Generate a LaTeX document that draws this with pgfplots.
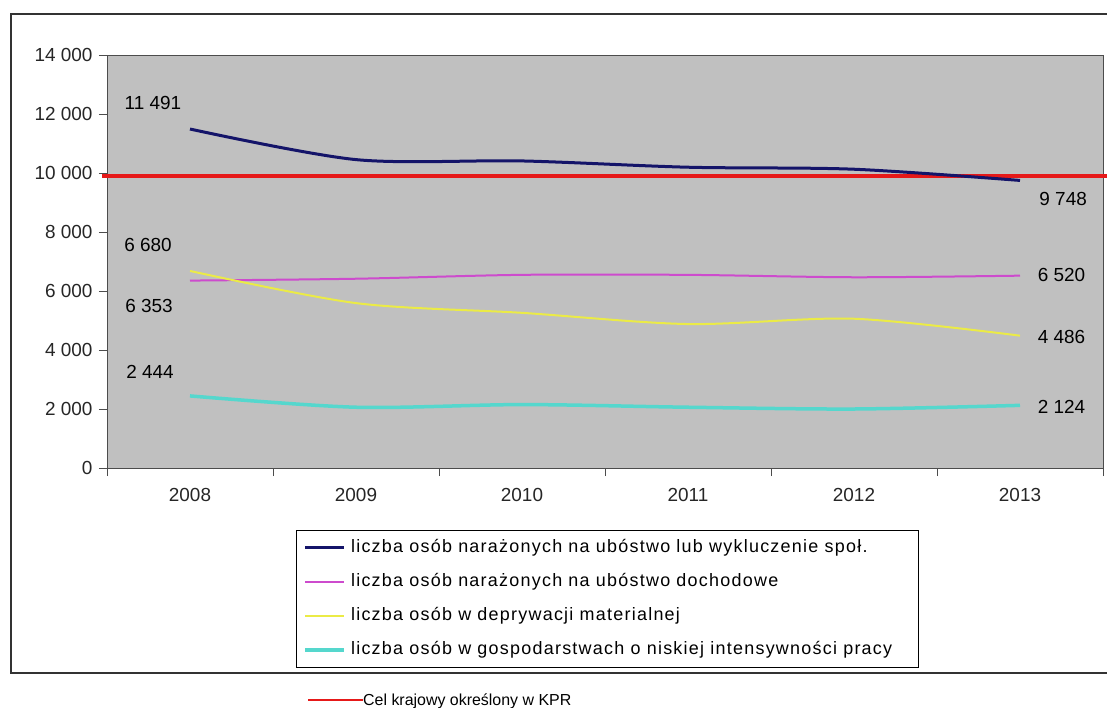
\documentclass[border=0pt]{standalone}
\usepackage{fontspec}
\setmainfont{Liberation Sans}
\newfontfamily\legfont[LetterSpace=7]{Liberation Sans}
\usepackage{pgfplots}
\pgfplotsset{compat=1.18}

\definecolor{bggray}{RGB}{192,192,192}
\definecolor{navyline}{RGB}{20,20,105}
\definecolor{magline}{RGB}{205,75,205}
\definecolor{yelline}{RGB}{235,235,70}
\definecolor{cyanline}{RGB}{85,215,205}
\definecolor{redline}{RGB}{230,25,25}
\newcommand\lab{\fontsize{19}{22}\selectfont}
\newcommand\leg{\legfont\fontsize{18}{21}\selectfont}

\begin{document}
\begin{tikzpicture}
% page = 1107 x 708 bp, origin at the top-left corner, y going down as negative
\useasboundingbox (0bp,0bp) rectangle (1107bp,-708bp);
% outer chart frame (right edge runs off the picture)
\draw[line width=1.5bp, black!80] (11bp,-14bp) rectangle (1130bp,-673bp);

\begin{axis}[
    at={(107bp,-468bp)}, anchor=south west,
    scale only axis, width=996bp, height=413bp,
    xmin=-0.5, xmax=5.5, ymin=0, ymax=14000,
    axis background/.style={fill=bggray},
    axis line style={draw=black!70, line width=1bp},
    tick pos=left, tick align=outside, major tick length=8bp,
    tick style={black!70, line width=1bp},
    xtick={-0.5,0.5,1.5,2.5,3.5,4.5,5.5},
    x tick label as interval,
    xticklabels={2008,2009,2010,2011,2012,2013},
    ytick={0,2000,4000,6000,8000,10000,12000,14000},
    yticklabels={0,2 000,4 000,6 000,8 000,10 000,12 000,14 000},
    scaled y ticks=false,
    ticklabel style={font=\lab, text=black!85},
    xticklabel style={yshift=-9bp},
    yticklabel style={xshift=-3bp},
    clip=false,
    legend style={at={(axis description cs:0.1898,-0.150)}, anchor=north west,
        draw=black, line width=1bp, fill=white, font=\leg,
        inner xsep=7bp, inner ysep=9bp, row sep=17bp, column sep=5bp,
        nodes={inner sep=0pt, text height=13bp, text depth=4bp}},
    legend cell align=left,
    legend image code/.code={\draw[#1] (0bp,0bp) -- (39bp,0bp);},
]
% target line from the KPR (not in the legend)
\addplot[redline, line width=4bp, forget plot] coordinates {(-0.53,9900) (5.53,9900)};

\addplot[navyline, line width=3bp, smooth, tension=0.5] coordinates {
    (0,11491) (1,10454) (2,10409) (3,10196) (4,10128) (5,9748)};
\addlegendentry{\makebox[560bp][l]{liczba osób narażonych na ubóstwo lub wykluczenie społ.}}

\addplot[magline, line width=2bp, smooth, tension=0.5] coordinates {
    (0,6353) (1,6416) (2,6548) (3,6547) (4,6466) (5,6520)};
\addlegendentry{liczba osób narażonych na ubóstwo dochodowe}

\addplot[yelline, line width=2bp, smooth, tension=0.5] coordinates {
    (0,6680) (1,5590) (2,5260) (3,4880) (4,5060) (5,4486)};
\addlegendentry{liczba osób w deprywacji materialnej}

\addplot[cyanline, line width=3.5bp, smooth, tension=0.5] coordinates {
    (0,2444) (1,2060) (2,2150) (3,2060) (4,2000) (5,2124)};
\addlegendentry{liczba osób w gospodarstwach o niskiej intensywności pracy}

% data labels
\node[font=\lab] at (axis cs:-0.223,12373) {11 491};
\node[font=\lab] at (axis cs:-0.253,7559) {6 680};
\node[font=\lab] at (axis cs:-0.247,5492) {6 353};
\node[font=\lab] at (axis cs:-0.241,3254) {2 444};
\node[font=\lab] at (axis cs:5.26,9119) {9 748};
\node[font=\lab] at (axis cs:5.25,6542) {6 520};
\node[font=\lab] at (axis cs:5.25,4441) {4 486};
\node[font=\lab] at (axis cs:5.25,2068) {2 124};
\end{axis}

% separate key for the target line, below the frame
\draw[redline, line width=2.5bp] (308bp,-700bp) -- (363bp,-700bp);
\node[anchor=west, inner sep=0pt, font=\fontsize{16}{19}\selectfont] at (363bp,-701bp) {Cel krajowy określony w KPR};
\end{tikzpicture}
\end{document}
